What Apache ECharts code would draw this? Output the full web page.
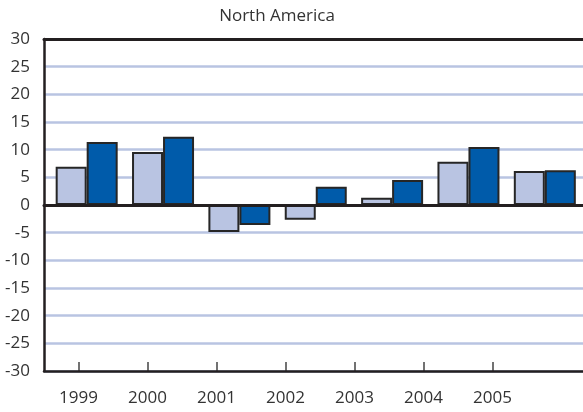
<!DOCTYPE html>
<html><head><meta charset="utf-8">
<script src="https://cdn.jsdelivr.net/npm/echarts@6/dist/echarts.min.js"></script>
<style>html,body{margin:0;padding:0;background:#fff}#c{width:583px;height:412px}</style>
</head><body><div id="c"></div>
<script>
const title = 'North America';
const categories = ['1999','2000','2001','2002','2003','2004','2005'];
const seriesLight = [6.9, 9.6, -4.9, -2.65, 1.3, 7.8, 6.15];
const seriesDark = [11.4, 12.35, -3.6, 3.3, 4.5, 10.5, 6.3];
const yTicks = [-30, 30, 5];

const FONT = '"Open Sans", sans-serif';
const chart = echarts.init(document.getElementById('c'), null, {renderer: 'canvas'});
const yBase = {min: yTicks[0], max: yTicks[1], interval: yTicks[2]};
const grids = [
  {left: 44, right: 0, top: 39, bottom: 41},
  {left: 44, width: 483, top: 39, bottom: 41},
  {left: 48.5, width: 537, top: 39, bottom: 41}
];
chart.setOption({
  animation: false,
  title: {text: title, left: 272, top: 3, textAlign: 'center',
    textStyle: {fontFamily: FONT, fontSize: 17, fontWeight: 'normal', color: '#333'}},
  grid: grids,
  xAxis: [
    {gridIndex: 0, type: 'category', data: categories, position: 'bottom', z: 10,
      axisLine: {onZero: true, lineStyle: {color: '#231F20', width: 3}},
      axisTick: {show: false}, axisLabel: {show: false}},
    {gridIndex: 0, type: 'category', data: categories, position: 'top', z: 10,
      axisLine: {onZero: false, lineStyle: {color: '#231F20', width: 3}},
      axisTick: {show: false}, axisLabel: {show: false}},
    {gridIndex: 0, type: 'category', data: categories, position: 'bottom', z: 10,
      axisLine: {onZero: false, lineStyle: {color: '#231F20', width: 2.5}},
      axisTick: {show: false}, axisLabel: {show: false}},
    {gridIndex: 1, type: 'category', data: categories, position: 'bottom',
      axisLine: {show: false, onZero: false},
      axisTick: {show: true, inside: true, length: 9, alignWithLabel: true, lineStyle: {color: '#444', width: 1.5}},
      axisLabel: {margin: 19, fontFamily: FONT, fontSize: 17, color: '#333'}},
    {gridIndex: 2, type: 'category', data: categories, show: false}
  ],
  yAxis: [
    Object.assign({gridIndex: 0, type: 'value',
      axisLine: {show: true, lineStyle: {color: '#231F20', width: 2.5}},
      axisTick: {show: false},
      axisLabel: {margin: 14, fontFamily: FONT, fontSize: 17, color: '#333'},
      splitLine: {show: true, lineStyle: {color: '#B9C4E2', width: 2.5}}}, yBase),
    Object.assign({gridIndex: 1, type: 'value', show: false, splitLine: {show: false}}, yBase),
    Object.assign({gridIndex: 2, type: 'value', show: false, splitLine: {show: false}}, yBase)
  ],
  series: [
    {type: 'bar', xAxisIndex: 4, yAxisIndex: 2, data: seriesLight, barWidth: 31, barGap: '0%',
      itemStyle: {color: '#B9C4E2', borderColor: '#262626', borderWidth: 2}},
    {type: 'bar', xAxisIndex: 4, yAxisIndex: 2, data: seriesDark, barWidth: 31, barGap: '0%',
      itemStyle: {color: '#005BAA', borderColor: '#262626', borderWidth: 2}}
  ]
});
</script></body></html>
